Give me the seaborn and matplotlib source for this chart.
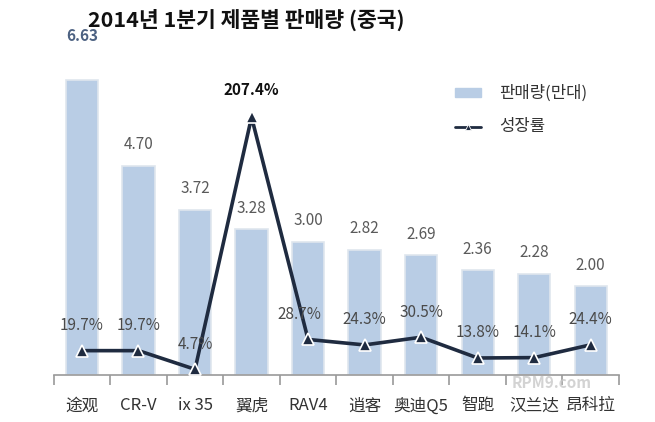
import matplotlib.pyplot as plt
import numpy as np
import pandas as pd
import seaborn as sns

sns.set_theme(style='white')
plt.rcParams['font.family'] = ['Noto Sans CJK SC', 'DejaVu Sans']

models = ['途观', 'CR-V', 'ix 35', '翼虎', 'RAV4', '逍客', '奥迪Q5', '智跑', '汉兰达', '昂科拉']
sales = [6.63, 4.70, 3.72, 3.28, 3.00, 2.82, 2.69, 2.36, 2.28, 2.00]
growth = [19.7, 19.7, 4.7, 207.4, 28.7, 24.3, 30.5, 13.8, 14.1, 24.4]

df = pd.DataFrame({'model': models, 'sales': sales, 'growth': growth, 'pos': np.arange(len(models))})

bar_color = '#b9cde5'
line_color = '#1f2b40'

fig = plt.figure(figsize=(6.55, 4.22), dpi=100)
ax = fig.add_axes([0.082, 0.111, 0.863, 0.747])
sns.barplot(data=df, x='model', y='sales', color=bar_color, width=0.57, saturation=1,
            edgecolor='#dfe6ee', linewidth=1.2, ax=ax)
ax.set_ylim(0, 7.08)
ax.set_xlim(-0.5, len(models) - 0.5)

for i, v in enumerate(sales):
    if i == 0:
        ax.annotate(f'{v:.2f}', (i, v), xytext=(0, 26), textcoords='offset points',
                    ha='center', va='bottom', fontsize=11, fontweight='bold', color='#4d6282')
    else:
        ax.annotate(f'{v:.2f}', (i, v), xytext=(0, 9), textcoords='offset points',
                    ha='center', va='bottom', fontsize=11, color='#5a5a5a')

ax2 = ax.twinx()
sns.lineplot(data=df, x='pos', y='growth', color=line_color, linewidth=2.6, marker='^',
             markersize=9, markeredgecolor='white', markeredgewidth=1.2, ax=ax2)
ax2.set_ylim(0, 253.4)

for i, g in enumerate(growth):
    if i == 3:
        ax2.annotate(f'{g}%', (i, g), xytext=(0, 14), textcoords='offset points',
                     ha='center', va='bottom', fontsize=11, fontweight='bold', color='#111111')
    else:
        dx = -6 if i == 4 else 0
        ax2.annotate(f'{g}%', (i, g), xytext=(dx, 12), textcoords='offset points',
                     ha='center', va='bottom', fontsize=11, color='#4a4a4a')

for a in (ax, ax2):
    for s in ('top', 'right', 'left'):
        a.spines[s].set_visible(False)
    a.set_yticks([])
    a.set_ylabel('')
    a.set_xlabel('')
ax2.spines['bottom'].set_visible(False)
ax.spines['bottom'].set_color('#9a9a9a')
ax.spines['bottom'].set_linewidth(1.2)

ax.set_xticks(np.arange(len(models)))
ax.set_xticklabels(models, fontsize=12, color='#333333')
ax.set_xticks(np.arange(len(models) + 1) - 0.5, minor=True)
ax.tick_params(axis='x', which='major', length=0, pad=16)
ax.tick_params(axis='x', which='minor', length=7, width=1.2, color='#9a9a9a', direction='out', bottom=True)
ax2.tick_params(axis='x', length=0, labelbottom=False)

# legend
fig.patches.append(plt.Rectangle((455 / 655, 1 - 97 / 422), 26 / 655, 9 / 422,
                                 transform=fig.transFigure, color=bar_color))
fig.text(499 / 655, 1 - 93 / 422, '판매량(만대)', fontsize=12, va='center', color='#333333')
fig.lines.append(plt.Line2D([455 / 655, 468 / 655, 481 / 655], [1 - 127 / 422] * 3,
                            transform=fig.transFigure, color=line_color, linewidth=2,
                            marker='^', markersize=5, markevery=[1],
                            markeredgecolor='white', markeredgewidth=0.6))
fig.text(499 / 655, 1 - 127 / 422, '성장률', fontsize=12, va='center', color='#333333')

fig.text(246 / 655, 1 - 20 / 422, '2014년 1분기 제품별 판매량 (중국)', fontsize=15.5, fontweight='bold',
         ha='center', va='center', color='#111111')

fig.text(552 / 655, 1 - 383 / 422, 'RPM9.com', fontsize=11, fontweight='bold', style='italic',
         ha='center', va='center', color='#c8c8c8', alpha=0.8)

fig.savefig('out.png', dpi=100)
